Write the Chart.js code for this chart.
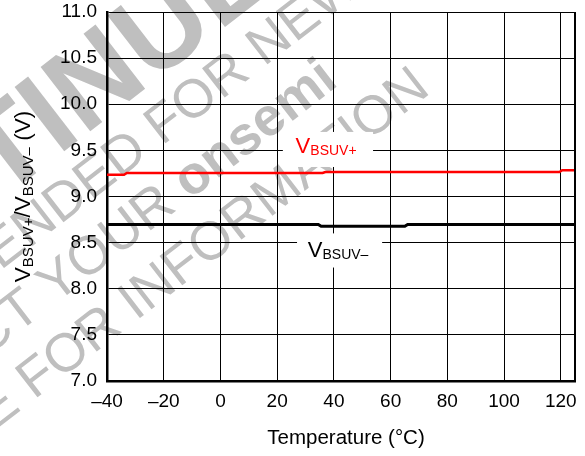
<!DOCTYPE html>
<html>
<head>
<meta charset="utf-8">
<script src="https://cdn.jsdelivr.net/npm/chart.js@4/dist/chart.umd.min.js"></script>
<style>
  html, body { margin: 0; padding: 0; background: #fff; }
  #wrap { width: 585px; height: 456px; }
</style>
</head>
<body>
<div id="wrap"><canvas id="chart" width="585" height="456"></canvas></div>
<script>
// temperature (°C) / threshold voltage (V)
const plusTemps = [-40, -34, -33, 36, 37, 119.5, 120.5, 125];
const plusVolts = [9.235, 9.235, 9.255, 9.255, 9.265, 9.265, 9.285, 9.285];
const minusTemps = [-40, 34.5, 35.5, 65, 66, 125];
const minusVolts = [8.697, 8.697, 8.677, 8.677, 8.697, 8.697];

const xTicks = [-40, -20, 0, 20, 40, 60, 80, 100, 120, 125];
const xTickLabels = ['\u201340', '\u201320', '0', '20', '40', '60', '80', '100', '120', ''];
const yTicks = [7.0, 7.5, 8.0, 8.5, 9.0, 9.5, 10.0, 10.5, 11.0];

const FONT = '"Liberation Sans", Arial, Helvetica, sans-serif';

function toPoints(xs, ys) {
  return xs.map((x, i) => ({ x: x, y: ys[i] }));
}

// draws a run of [text, size, dy] pieces starting at (x, y)
function drawRuns(ctx, runs, x, y, color) {
  ctx.fillStyle = color;
  ctx.textAlign = 'left';
  ctx.textBaseline = 'alphabetic';
  for (const r of runs) {
    ctx.font = r[1] + 'px ' + FONT;
    ctx.fillText(r[0], x, y + r[2]);
    x += ctx.measureText(r[0]).width;
  }
  return x;
}

function runsWidth(ctx, runs) {
  let w = 0;
  for (const r of runs) {
    ctx.font = r[1] + 'px ' + FONT;
    w += ctx.measureText(r[0]).width;
  }
  return w;
}

// grey "discontinued" stamp that sits behind the grid
function drawWatermark(ctx) {
  const ang = -37.7 * Math.PI / 180;
  const lines = [
    { pre: 'DISCONTI', text: 'DISCONTINUED', font: 'bold 118px ' + FONT, x: 84, y: 136 },
    { pre: 'NOT RECOMMENDED ', text: 'NOT RECOMMENDED FOR NEW DESIGN', font: '54px ' + FONT, x: 162, y: 146 },
    { pre: 'REPRESENTATIVE ', text: 'REPRESENTATIVE FOR INFORMATION', font: '54px ' + FONT, x: 34, y: 400 }
  ];
  ctx.save();
  ctx.fillStyle = '#bfbfbf';
  ctx.textBaseline = 'alphabetic';
  ctx.textAlign = 'left';
  for (const l of lines) {
    ctx.save();
    ctx.translate(l.x, l.y);
    ctx.rotate(ang);
    ctx.font = l.font;
    ctx.fillText(l.text, -ctx.measureText(l.pre).width, 0);
    ctx.restore();
  }
  // middle line has the bold company name in it
  ctx.save();
  ctx.translate(190, 200);
  ctx.rotate(ang);
  ctx.font = '54px ' + FONT;
  const head = 'CONTACT YOUR ';
  ctx.fillText(head, -ctx.measureText(head).width, 0);
  ctx.font = 'bold 54px ' + FONT;
  ctx.fillText('onsemi', 0, 0);
  ctx.restore();
  ctx.restore();
}

const decor = {
  id: 'decor',
  beforeDraw(chart) {
    const ctx = chart.ctx;
    ctx.save();
    ctx.fillStyle = '#fff';
    ctx.fillRect(0, 0, chart.width, chart.height);
    drawWatermark(ctx);
    ctx.restore();
  },
  beforeDatasetsDraw(chart) {
    const ctx = chart.ctx;
    const xs = chart.scales.x, ys = chart.scales.y;
    ctx.save();
    // series labels on white boxes
    const plusRuns = [['V', 22, 0], ['BSUV+', 14, 2]];
    const minusRuns = [['V', 22, 0], ['BSUV\u2013', 14, 2]];
    ctx.fillStyle = '#fff';
    ctx.fillRect(xs.getPixelForValue(22), ys.getPixelForValue(9.70), xs.getPixelForValue(53.8) - xs.getPixelForValue(22), ys.getPixelForValue(9.32) - ys.getPixelForValue(9.70));
    ctx.fillRect(xs.getPixelForValue(27), ys.getPixelForValue(8.60), xs.getPixelForValue(57) - xs.getPixelForValue(27), ys.getPixelForValue(8.23) - ys.getPixelForValue(8.60));
    drawRuns(ctx, plusRuns, xs.getPixelForValue(26.5), ys.getPixelForValue(9.47), '#ff0000');
    drawRuns(ctx, minusRuns, xs.getPixelForValue(30.8), ys.getPixelForValue(8.34), '#000');
    ctx.restore();
  },
  afterDraw(chart) {
    const ctx = chart.ctx;
    const area = chart.chartArea;
    ctx.save();
    // right-hand frame edge
    ctx.strokeStyle = '#000';
    ctx.lineWidth = 1;
    ctx.beginPath();
    ctx.moveTo(area.right - 0.5, area.top);
    ctx.lineTo(area.right - 0.5, area.bottom);
    ctx.stroke();
    // axis titles
    ctx.fillStyle = '#000';
    ctx.font = '20.5px ' + FONT;
    ctx.textAlign = 'center';
    ctx.textBaseline = 'alphabetic';
    ctx.fillText('Temperature (\u00B0C)', 346, 444);
    const yRuns = [['V', 22.5, 0], ['BSUV+', 15, 3], ['/V', 22.5, 0], ['BSUV\u2013', 15, 3], [' (V)', 22.5, 0]];
    const w = runsWidth(ctx, yRuns);
    ctx.translate(30, (area.top + area.bottom) / 2);
    ctx.rotate(-Math.PI / 2);
    drawRuns(ctx, yRuns, -w / 2, 0, '#000');
    ctx.restore();
  }
};

new Chart(document.getElementById('chart'), {
  type: 'line',
  data: {
    datasets: [
      {
        label: 'VBSUV+',
        data: toPoints(plusTemps, plusVolts),
        borderColor: '#ff0000',
        borderWidth: 2.5,
        pointRadius: 0,
        tension: 0
      },
      {
        label: 'VBSUV-',
        data: toPoints(minusTemps, minusVolts),
        borderColor: '#000',
        borderWidth: 3,
        pointRadius: 0,
        tension: 0
      }
    ]
  },
  options: {
    responsive: false,
    animation: false,
    layout: { padding: { top: 12, right: 10, left: 0, bottom: 0 } },
    plugins: { legend: { display: false }, tooltip: { enabled: false } },
    scales: {
      x: {
        type: 'linear',
        min: -40,
        max: 125,
        afterBuildTicks(scale) {
          scale.ticks = xTicks.map(v => ({ value: v }));
        },
        afterFit(scale) {
          scale.height = 75;
          scale.paddingLeft = 0;
          scale.paddingRight = 0;
        },
        ticks: {
          autoSkip: false,
          maxRotation: 0,
          padding: 9,
          color: '#000',
          font: { family: FONT, size: 19 },
          callback(value) {
            const i = xTicks.indexOf(value);
            return i >= 0 ? xTickLabels[i] : '';
          }
        },
        grid: { color: '#000', lineWidth: 1, drawTicks: false },
        border: { color: '#000', width: 2.5 }
      },
      y: {
        min: 7,
        max: 11,
        afterBuildTicks(scale) {
          scale.ticks = yTicks.map(v => ({ value: v }));
        },
        afterFit(scale) {
          scale.width = 107;
          scale.paddingTop = 0;
          scale.paddingBottom = 0;
        },
        ticks: {
          padding: 10,
          color: '#000',
          font: { family: FONT, size: 19 },
          callback(value) { return value.toFixed(1); }
        },
        grid: { color: '#000', lineWidth: 1, drawTicks: false },
        border: { color: '#000', width: 2.5 }
      }
    }
  },
  plugins: [decor]
});
</script>
</body>
</html>
